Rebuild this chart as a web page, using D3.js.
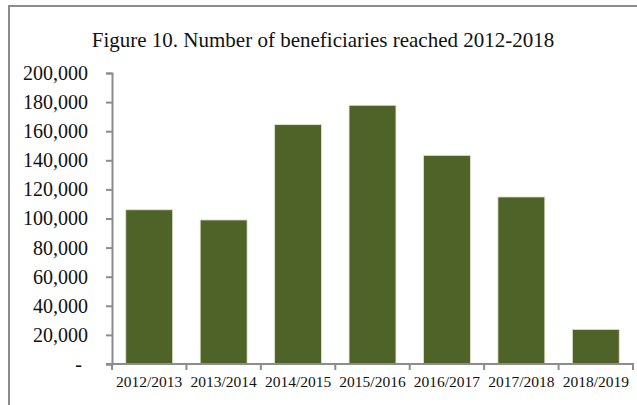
<!DOCTYPE html>
<html>
<head>
<meta charset="utf-8">
<script src="https://cdn.jsdelivr.net/npm/d3@7"></script>
<style>
  body { margin: 0; background: #fff; }
  text { font-family: "Liberation Serif", "Times New Roman", serif; fill: #111; }
</style>
</head>
<body>
<div class="canvas"></div>
<script>
// data
const years = ["2012/2013", "2013/2014", "2014/2015", "2015/2016", "2016/2017", "2017/2018", "2018/2019"];
const beneficiaries = [106000, 99000, 164500, 177800, 143400, 114800, 23800];
const yTicks = [0, 20000, 40000, 60000, 80000, 100000, 120000, 140000, 160000, 180000, 200000];

const dims = {width: 637, height: 405};
const plot = {left: 112, right: 633, top: 73, bottom: 364};

const svg = d3.select(".canvas").append("svg")
    .attr("width", dims.width)
    .attr("height", dims.height);

// outer frame (only left + top edges show inside the crop)
svg.append("rect")
    .attr("x", 9).attr("y", 6)
    .attr("width", 800).attr("height", 600)
    .attr("fill", "none")
    .attr("stroke", "#8c8c8c")
    .attr("stroke-width", 2);

svg.append("text")
    .attr("x", 323).attr("y", 47)
    .attr("text-anchor", "middle")
    .style("font-size", "21px")
    .text("Figure 10. Number of beneficiaries reached 2012-2018");

const x = d3.scaleBand()
    .domain(years)
    .range([plot.left, plot.right])
    .paddingInner(0.37)
    .paddingOuter(0.185);

const y = d3.scaleLinear()
    .domain([0, 200000])
    .range([plot.bottom, plot.top]);

const fmt = d => d === 0 ? "-" : d3.format(",")(d);

// bars
svg.append("g").selectAll("rect")
    .data(beneficiaries)
    .enter().append("rect")
    .attr("x", (d, i) => x(years[i]))
    .attr("y", d => y(d))
    .attr("width", x.bandwidth())
    .attr("height", d => y(0) - y(d))
    .attr("fill", "#4f6228")
    .attr("stroke", "#dfe6cf")
    .attr("stroke-width", 0.8);

// y axis
const yAxis = svg.append("g")
    .attr("transform", `translate(${plot.left},0)`)
    .call(d3.axisLeft(y).tickValues(yTicks).tickFormat(fmt).tickSize(6).tickSizeOuter(6).tickPadding(18));
yAxis.selectAll("path, line").attr("stroke", "#8c8c8c").attr("stroke-width", 2);
yAxis.selectAll("text")
    .style("font-size", "20px")
    .style("font-family", "Liberation Serif, serif")
    .attr("fill", "#111");
yAxis.selectAll(".tick").filter(d => d === 0).select("text").attr("dx", -6);

// x axis, ticks at band boundaries
const xAxis = svg.append("g")
    .attr("transform", `translate(0,${plot.bottom})`);
xAxis.append("line")
    .attr("x1", plot.left - 6).attr("x2", plot.right + 1)
    .attr("stroke", "#8c8c8c").attr("stroke-width", 2);
const bounds = d3.range(years.length + 1).map(i => plot.left + i * (plot.right - plot.left) / years.length);
xAxis.selectAll(".btick")
    .data(bounds)
    .enter().append("line")
    .attr("x1", d => d).attr("x2", d => d)
    .attr("y1", 0).attr("y2", 6)
    .attr("stroke", "#8c8c8c").attr("stroke-width", 2);
xAxis.selectAll(".xlab")
    .data(years)
    .enter().append("text")
    .attr("x", d => x(d) + x.bandwidth() / 2)
    .attr("y", 23)
    .attr("text-anchor", "middle")
    .style("font-size", "15.5px")
    .text(d => d);
</script>
</body>
</html>
